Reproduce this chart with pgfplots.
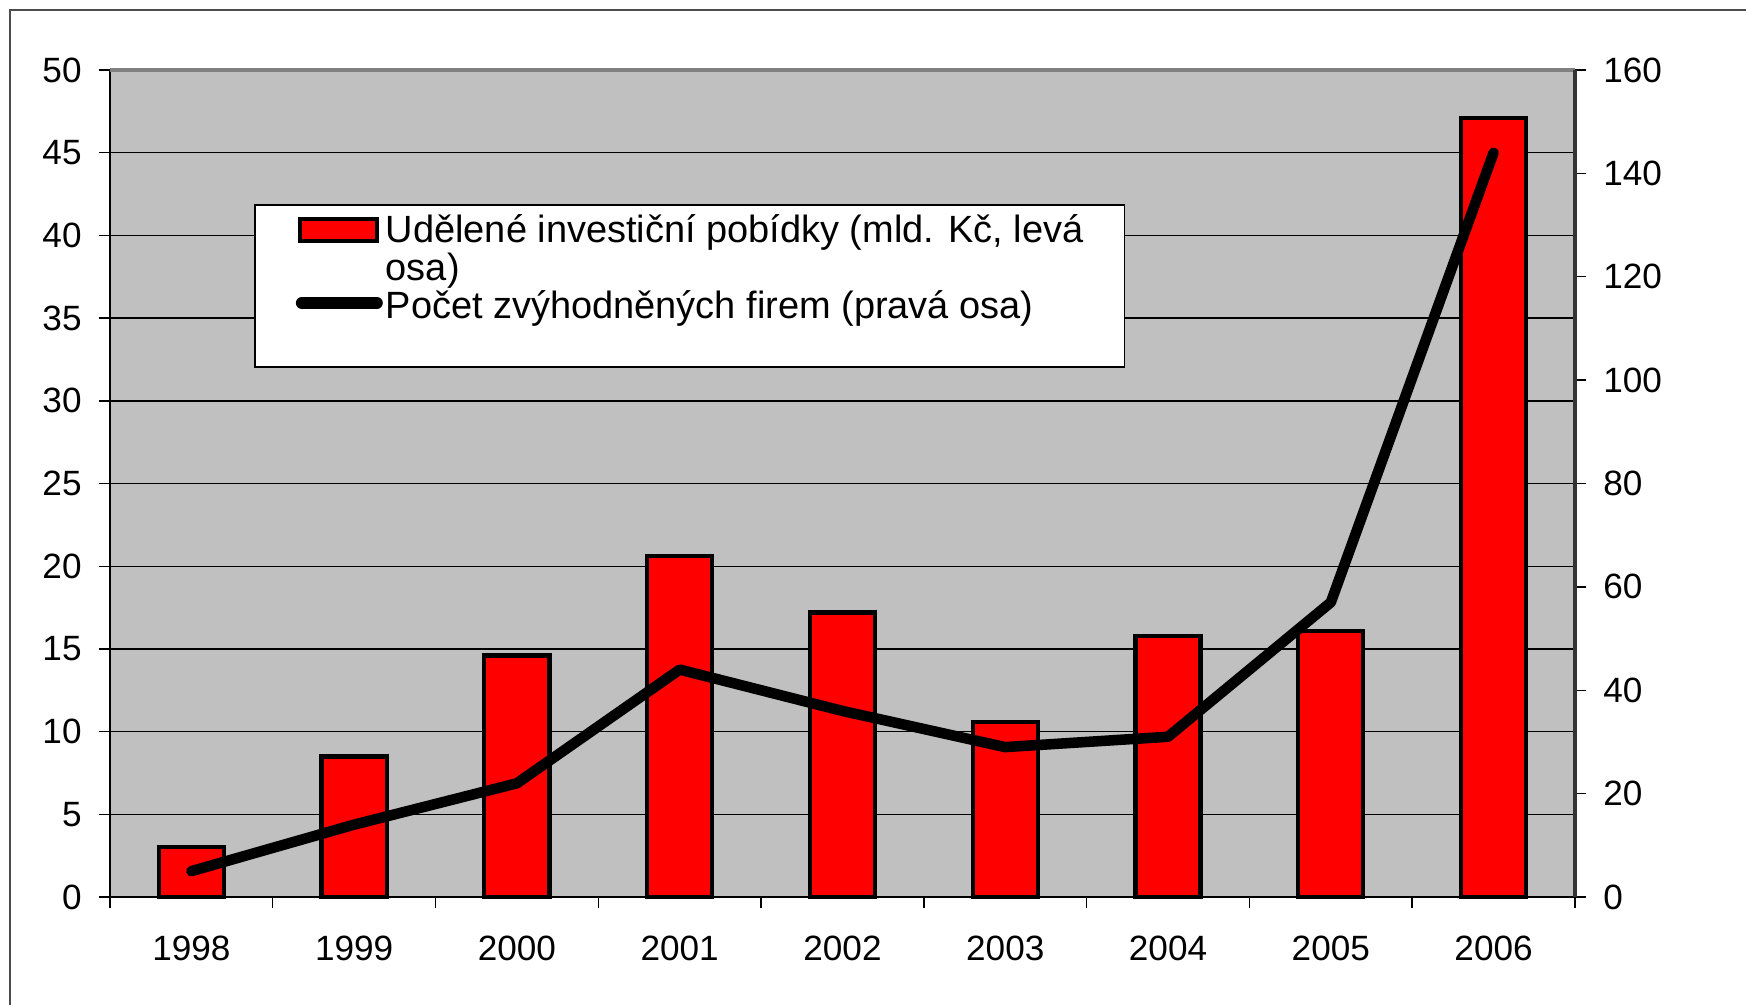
\documentclass[border=0pt]{standalone}
\usepackage{fontspec}
\setmainfont{Liberation Sans}
\usepackage{pgfplots}
\pgfplotsset{compat=1.18}
\definecolor{plotbg}{HTML}{C0C0C0}
\definecolor{barred}{HTML}{FF0000}
\begin{document}
\begin{tikzpicture}
\useasboundingbox (0,0) rectangle (174.6mm,100.4mm);
\fill[white] (0,0) rectangle (174.6mm,100.4mm);
\draw[line width=0.25mm, black!70] (1.0mm,-2mm) -- (1.0mm,99.4mm) -- (177mm,99.4mm);
\begin{axis}[
  scale only axis, width=146.5mm, height=82.7mm,
  at={(11mm,10.7mm)}, anchor=south west,
  clip=false,
  xmin=-0.5, xmax=8.5, ymin=0, ymax=50,
  axis background/.style={fill=plotbg},
  axis x line*=bottom, axis y line*=left,
  axis line style={line width=0.6pt, black, -},
  xtick={0,...,8},
  xticklabels={1998,1999,2000,2001,2002,2003,2004,2005,2006},
  minor xtick={-0.5,0.5,...,8.5},
  major x tick style={draw=none},
  ytick={0,5,...,50},
  ymajorgrids, grid style={line width=0.4pt, black},
  tick align=outside,
  major tick length=1.1mm, minor tick length=1.1mm,
  tick style={line width=0.4pt, black},
  /pgf/number format/assume math mode=true,
  tick label style={font=\fontsize{10}{12}\selectfont},
  xticklabel style={yshift=-1.6mm},
  yticklabel style={xshift=-0.5mm},
]
\addplot[ybar, bar width=0.4, fill=barred, draw=black, line width=1.2pt]
  coordinates {(0,3.0) (1,8.5) (2,14.6) (3,20.6) (4,17.2) (5,10.6) (6,15.8) (7,16.1) (8,47.1)};
\draw[line width=1pt, black!50] (rel axis cs:0,1) -- (rel axis cs:1,1);
\end{axis}
\begin{axis}[
  scale only axis, width=146.5mm, height=82.7mm,
  at={(11mm,10.7mm)}, anchor=south west,
  clip=false,
  xmin=-0.5, xmax=8.5, ymin=0, ymax=160,
  axis x line=none, axis y line*=right,
  axis line style={line width=1pt, black!80, -},
  ytick={0,20,...,160},
  tick align=outside, major tick length=1.1mm,
  tick style={line width=0.4pt, black},
  /pgf/number format/assume math mode=true,
  tick label style={font=\fontsize{10}{12}\selectfont},
  yticklabel style={xshift=0.5mm},
  legend style={at={(0.0983,0.838)}, anchor=north west,
    draw=black, line width=0.5pt, fill=white,
    font=\fontsize{10.8}{13}\selectfont,
    row sep=0.4mm, column sep=0.3mm,
    nodes={inner sep=0pt, text height=2.6mm, text depth=0.8mm},
    cells={anchor=west},
    inner xsep=4.1mm, inner ysep=1.2mm},
]
\addlegendimage{legend image code/.code={\draw[fill=barred, draw=black, line width=1.2pt] (0mm,-0.7mm) rectangle (7.7mm,1.5mm);}}
\addlegendentry{Udělené investiční pobídky (mld. Kč, levá}
\addlegendimage{empty legend}
\addlegendentry{osa)}
\addplot[line width=3pt, black, line cap=round, line join=round,
  legend image code/.code={\draw[line width=3.4pt, line cap=round, black] (0.2mm,0.7mm) -- (7.7mm,0.7mm);}]
  coordinates {(0,5) (1,14) (2,22) (3,44) (4,36) (5,29) (6,31) (7,57) (8,144)};
\addlegendentry{Počet zvýhodněných firem (pravá osa)}
\addlegendimage{empty legend}
\addlegendentry[text height=0pt, text depth=2.4mm]{}
\end{axis}
\end{tikzpicture}
\end{document}
